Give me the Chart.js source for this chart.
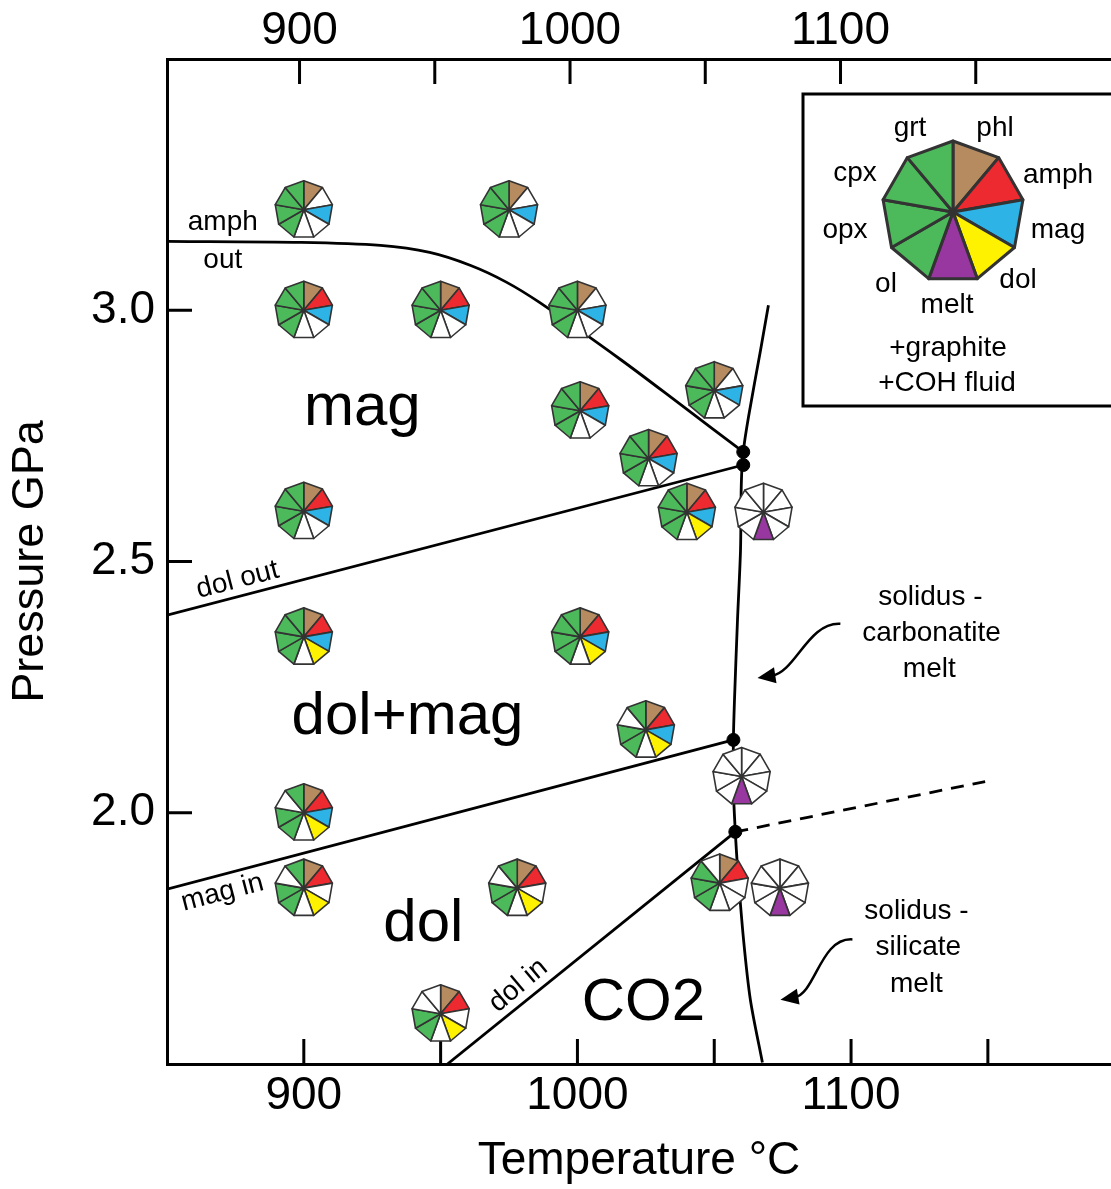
<!DOCTYPE html>
<html>
<head>
<meta charset="utf-8">
<title>Phase relations</title>
<script src="https://cdn.jsdelivr.net/npm/chart.js@4.4.1/dist/chart.umd.min.js"></script>
<style>
  html, body { margin: 0; padding: 0; background: #fff; }
  canvas { display: block; }
</style>
</head>
<body>
<canvas id="phaseChart" width="1111" height="1189"></canvas>
<script>
// --- data (T in °C, P in GPa) ---
const xLabelTicks = [900, 1000, 1100];
const xMinorTicks = [900, 950, 1000, 1050, 1100, 1150];
const yLabelTicks = [2.0, 2.5, 3.0];

// phase boundaries
const amphOutT = [850, 899, 928, 946, 961, 974, 986, 1016, 1038, 1060.6];
const amphOutP = [3.137, 3.135, 3.129, 3.115, 3.089, 3.056, 3.016, 2.901, 2.811, 2.718];

const solidusT = [1069.8, 1066.9, 1062.5, 1060.6, 1059.9, 1059.6, 1058.5, 1057.4, 1057.0, 1057.0, 1057.7, 1058.5, 1060.7, 1063.2, 1067.6];
const solidusP = [3.010, 2.920, 2.787, 2.718, 2.656, 2.523, 2.384, 2.225, 2.145, 2.046, 1.962, 1.893, 1.748, 1.628, 1.503];

const dolOutT = [850, 1060.6];
const dolOutP = [2.393, 2.692];
const magInT = [850, 1057.0];
const magInP = [1.848, 2.145];
const dolInT = [952.5, 1057.7];
const dolInP = [1.5, 1.962];
const extT = [1057.7, 1149];
const extP = [1.962, 2.062];

// invariant points
const dotT = [1060.6, 1060.6, 1057.0, 1057.7];
const dotP = [2.718, 2.692, 2.145, 1.962];

// experiments: run conditions and phases present
const glyphTemp = [900, 975, 900, 950, 1000, 1050, 1001, 1026, 900, 1040, 1068, 900, 1001, 1025, 1060, 900, 900, 978, 1052, 1074, 950];
const glyphPress = [3.2, 3.2, 3.0, 3.0, 3.0, 2.84, 2.8, 2.705, 2.6, 2.598, 2.598, 2.35, 2.35, 2.165, 2.072, 2.0, 1.85, 1.85, 1.86, 1.85, 1.6];
const glyphPhases = [
  'phl mag ol opx cpx grt',
  'phl mag ol opx cpx grt',
  'phl amph mag ol opx cpx grt',
  'phl amph mag ol opx cpx grt',
  'phl mag ol opx cpx grt',
  'phl mag ol opx cpx grt',
  'phl amph mag ol opx cpx grt',
  'phl amph mag ol opx cpx grt',
  'phl amph mag ol opx cpx grt',
  'phl amph mag dol ol opx cpx grt',
  'melt',
  'phl amph mag dol ol opx cpx grt',
  'phl amph mag dol ol opx cpx grt',
  'phl amph mag dol ol opx grt',
  'melt',
  'phl amph mag dol ol opx grt',
  'phl amph dol ol opx grt',
  'phl amph dol ol opx grt',
  'phl amph ol opx cpx',
  'melt',
  'phl amph dol ol opx'
];

// segment order, clockwise from the top vertex
const phaseOrder = ['phl', 'amph', 'mag', 'dol', 'melt', 'ol', 'opx', 'cpx', 'grt'];
const phaseColors = {
  phl: '#b68b5f', amph: '#ec2a30', mag: '#2db3e6', dol: '#fff200', melt: '#98379f',
  ol: '#4cba5b', opx: '#4cba5b', cpx: '#4cba5b', grt: '#4cba5b'
};

const FONT = '"Liberation Sans", Arial, Helvetica, sans-serif';

function toPoints(xs, ys) {
  return xs.map((x, i) => ({ x: x, y: ys[i] }));
}

function drawGlyph(ctx, cx, cy, r, present, lw) {
  const step = Math.PI * 2 / 9;
  ctx.save();
  ctx.lineWidth = lw;
  ctx.strokeStyle = '#333';
  ctx.lineJoin = 'round';
  phaseOrder.forEach((ph, i) => {
    const a0 = -Math.PI / 2 + i * step;
    const a1 = a0 + step;
    ctx.beginPath();
    ctx.moveTo(cx, cy);
    ctx.lineTo(cx + r * Math.cos(a0), cy + r * Math.sin(a0));
    ctx.lineTo(cx + r * Math.cos(a1), cy + r * Math.sin(a1));
    ctx.closePath();
    ctx.fillStyle = present.includes(ph) ? phaseColors[ph] : '#fff';
    ctx.fill();
    ctx.stroke();
  });
  ctx.restore();
}

// glyphs at the experiment conditions
const glyphPlugin = {
  id: 'glyphs',
  afterDatasetsDraw(chart) {
    const { ctx, scales } = chart;
    glyphTemp.forEach((t, i) => {
      const px = scales.x.getPixelForValue(t);
      const py = scales.y.getPixelForValue(glyphPress[i]);
      drawGlyph(ctx, px, py, 29, glyphPhases[i].split(' '), 1.6);
    });
  }
};

// tick marks pointing into the plot
const innerTicks = {
  id: 'innerTicks',
  afterDatasetsDraw(chart) {
    const { ctx, chartArea, scales } = chart;
    const len = 25;
    ctx.save();
    ctx.strokeStyle = '#000';
    ctx.lineWidth = 3;
    ctx.beginPath();
    xMinorTicks.forEach(v => {
      const xb = scales.x.getPixelForValue(v);
      ctx.moveTo(xb, chartArea.bottom);
      ctx.lineTo(xb, chartArea.bottom - len);
      const xt = scales.x2.getPixelForValue(v);
      ctx.moveTo(xt, chartArea.top);
      ctx.lineTo(xt, chartArea.top + len);
    });
    yLabelTicks.forEach(v => {
      const y = scales.y.getPixelForValue(v);
      ctx.moveTo(chartArea.left, y);
      ctx.lineTo(chartArea.left + len, y);
    });
    ctx.stroke();
    ctx.restore();
  }
};

// field names, boundary names, arrows and the key
const labelPlugin = {
  id: 'labels',
  afterDraw(chart) {
    const { ctx, scales } = chart;
    const X = v => scales.x.getPixelForValue(v);
    const Y = v => scales.y.getPixelForValue(v);
    ctx.save();
    ctx.fillStyle = '#000';
    ctx.textAlign = 'center';

    // big field labels (baseline)
    ctx.textBaseline = 'alphabetic';
    ctx.font = '60px ' + FONT;
    [['mag', 921.4, 2.771], ['dol+mag', 937.9, 2.157], ['dol', 943.7, 1.744], ['CO2', 1024.1, 1.588]]
      .forEach(([s, t, p]) => ctx.fillText(s, X(t), Y(p)));

    // small labels
    ctx.textBaseline = 'middle';
    ctx.font = '28px ' + FONT;
    [['amph', 870.4, 3.175], ['out', 870.4, 3.100],
     ['solidus -', 1129, 2.429], ['carbonatite', 1129.4, 2.358], ['melt', 1128.6, 2.286],
     ['solidus -', 1123.9, 1.803], ['silicate', 1124.6, 1.732], ['melt', 1123.9, 1.658]]
      .forEach(([s, t, p]) => ctx.fillText(s, X(t), Y(p)));

    // rotated boundary labels
    [['dol out', 875.8, 2.463, -14.5], ['mag in', 870.3, 1.841, -14.7], ['dol in', 978.4, 1.656, -40]]
      .forEach(([s, t, p, a]) => {
        ctx.save();
        ctx.translate(X(t), Y(p));
        ctx.rotate(a * Math.PI / 180);
        ctx.fillText(s, 0, 0);
        ctx.restore();
      });

    // curved arrows pointing at the solidus
    const arrows = [
      [[1096.1, 2.376], [1084.4, 2.380], [1079.7, 2.280], [1065.8, 2.268]],
      [[1100.5, 1.748], [1088.8, 1.752], [1087.0, 1.640], [1074.2, 1.628]]
    ];
    ctx.strokeStyle = '#000';
    ctx.lineWidth = 2.5;
    arrows.forEach(a => {
      const p = a.map(([t, pr]) => [X(t), Y(pr)]);
      const ang = Math.atan2(p[3][1] - p[2][1], p[3][0] - p[2][0]);
      const hl = 18, hw = 8;
      const bx = p[3][0] - hl * 0.8 * Math.cos(ang);
      const by = p[3][1] - hl * 0.8 * Math.sin(ang);
      ctx.beginPath();
      ctx.moveTo(p[0][0], p[0][1]);
      ctx.bezierCurveTo(p[1][0], p[1][1], p[2][0], p[2][1], bx, by);
      ctx.stroke();
      ctx.beginPath();
      ctx.moveTo(p[3][0], p[3][1]);
      ctx.lineTo(p[3][0] - hl * Math.cos(ang) + hw * Math.sin(ang), p[3][1] - hl * Math.sin(ang) - hw * Math.cos(ang));
      ctx.lineTo(p[3][0] - hl * Math.cos(ang) - hw * Math.sin(ang), p[3][1] - hl * Math.sin(ang) + hw * Math.cos(ang));
      ctx.closePath();
      ctx.fill();
    });

    // key box
    ctx.lineWidth = 3;
    ctx.strokeStyle = '#000';
    ctx.strokeRect(803, 94, 320, 312);
    drawGlyph(ctx, 953, 212, 71, phaseOrder, 3);
    ctx.fillStyle = '#000';
    ctx.font = '28px ' + FONT;
    [['grt', 910, 128], ['phl', 995, 128], ['cpx', 855, 173], ['amph', 1058, 175],
     ['opx', 845, 230], ['mag', 1058, 230], ['ol', 886, 284], ['dol', 1018, 280],
     ['melt', 947, 305], ['+graphite', 948, 348], ['+COH fluid', 947, 383]]
      .forEach(([s, x, y]) => ctx.fillText(s, x, y));
    ctx.restore();
  }
};

const lineStyle = {
  showLine: true,
  borderColor: '#000',
  borderWidth: 2.8,
  pointRadius: 0,
  fill: false
};

// keep the plot frame exactly where the figure has it
function fixX(height) {
  return s => { s.height = height; s.paddingLeft = 0; s.paddingRight = 0; };
}

const ctx = document.getElementById('phaseChart');

new Chart(ctx, {
  type: 'scatter',
  data: {
    datasets: [
      { label: 'invariant points', data: toPoints(dotT, dotP), pointRadius: 6.5, pointHoverRadius: 0,
        backgroundColor: '#000', borderColor: '#000', showLine: false },
      Object.assign({ label: 'amph out', data: toPoints(amphOutT, amphOutP), tension: 0.3 }, lineStyle),
      Object.assign({ label: 'solidus', data: toPoints(solidusT, solidusP), tension: 0.3 }, lineStyle),
      Object.assign({ label: 'dol out', data: toPoints(dolOutT, dolOutP) }, lineStyle),
      Object.assign({ label: 'mag in', data: toPoints(magInT, magInP) }, lineStyle),
      Object.assign({ label: 'dol in', data: toPoints(dolInT, dolInP) }, lineStyle),
      Object.assign({ label: 'extension', data: toPoints(extT, extP), borderDash: [13, 9] }, lineStyle)
    ]
  },
  options: {
    responsive: false,
    animation: false,
    layout: { padding: 0, autoPadding: false },
    plugins: {
      legend: { display: false },
      tooltip: { enabled: false }
    },
    scales: {
      x: {
        type: 'linear',
        position: 'bottom',
        min: 850,
        max: 1195,
        grid: { display: false, drawTicks: false },
        border: { display: true, color: '#000', width: 3 },
        ticks: { color: '#000', font: { size: 46, family: FONT }, padding: 5, maxRotation: 0, minRotation: 0,
                 callback: v => String(v) },
        afterBuildTicks: s => { s.ticks = xLabelTicks.map(v => ({ value: v })); },
        afterFit: fixX(125),
        title: { display: true, text: 'Temperature °C', color: '#000',
                 font: { size: 46, family: FONT }, padding: { top: 0, bottom: 0 } }
      },
      x2: {
        type: 'linear',
        position: 'top',
        min: 851,
        max: 1200,
        grid: { display: false, drawTicks: false },
        border: { display: true, color: '#000', width: 3 },
        ticks: { color: '#000', font: { size: 46, family: FONT }, padding: 0, maxRotation: 0, minRotation: 0,
                 callback: v => String(v) },
        afterBuildTicks: s => { s.ticks = xLabelTicks.map(v => ({ value: v })); },
        afterFit: fixX(59)
      },
      y: {
        type: 'linear',
        position: 'left',
        min: 1.5,
        max: 3.5,
        grid: { display: false, drawTicks: false },
        border: { display: true, color: '#000', width: 3 },
        ticks: { color: '#000', font: { size: 46, family: FONT }, padding: 12,
                 callback: v => v.toFixed(1) },
        afterBuildTicks: s => { s.ticks = yLabelTicks.map(v => ({ value: v })); },
        afterFit: s => { s.width = 167; s.paddingTop = 0; s.paddingBottom = 0; },
        title: { display: true, text: 'Pressure GPa', color: '#000',
                 font: { size: 45, family: FONT }, padding: { top: 4, bottom: 0 } }
      }
    }
  },
  plugins: [innerTicks, glyphPlugin, labelPlugin]
});
</script>
</body>
</html>
